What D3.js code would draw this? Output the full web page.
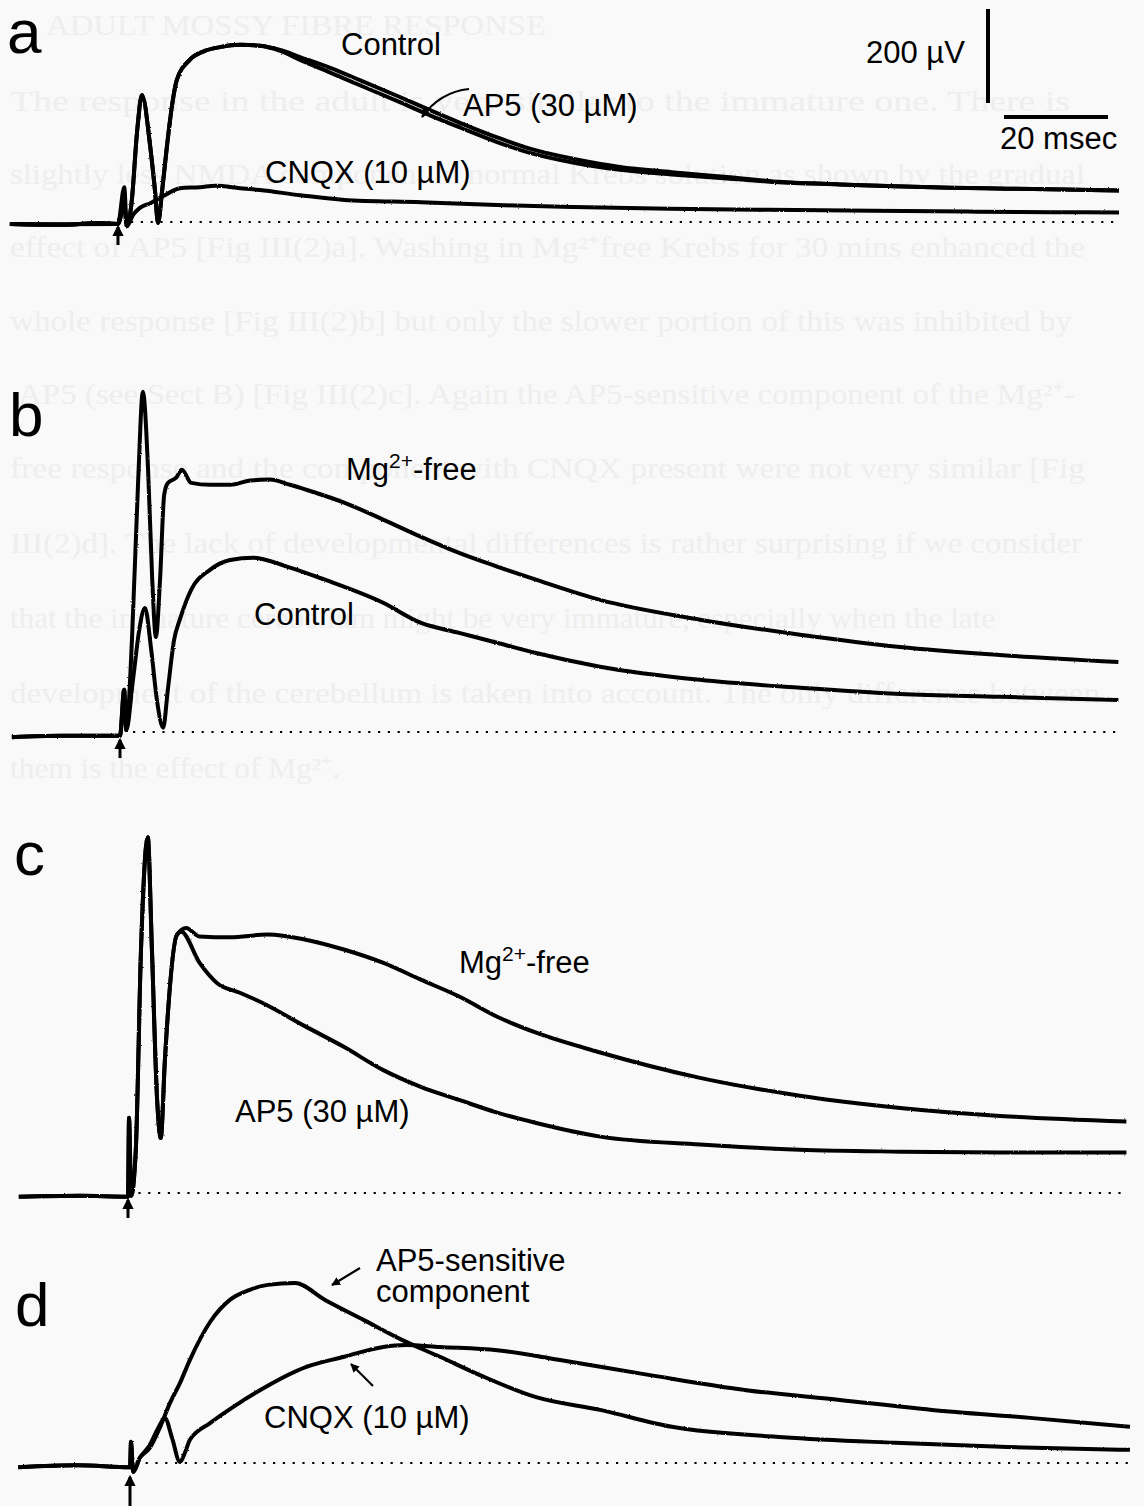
<!DOCTYPE html>
<html><head><meta charset="utf-8">
<script src="https://cdn.jsdelivr.net/npm/d3@7"></script>
<style>
html,body{margin:0;padding:0;background:#f9f9f9;}
svg{display:block;}
</style></head><body>
<svg id="fig" width="1144" height="1506"></svg>
<script>
// ---------- DATA (time in ms from stimulus, amplitude in µV above the dotted baseline) ----------
const aControl = [[-20.8,-4],[-11.2,-6],[-3.5,-2],[0,-4],[1.2,36],[1.7,-9],[2.6,40],[3.7,196],[4.6,270],[6.2,160],[7.1,68],[7.7,-2],[8.5,68],[9.4,160],[10.4,249],[11.3,302],[13.8,345],[16.7,364],[19.6,372],[23.5,377],[27.3,375],[31.2,366],[35,351],[40.8,328],[46.5,302],[54.2,266],[60,238],[66,210],[72.9,180],[79.2,156],[87.7,134],[96.5,117],[106.5,106],[117.7,95],[127.9,85],[138.8,80],[149.4,76],[160,73],[171,71],[182,69],[192.5,67]];
const aAP5 = [[-20.8,-4],[-11.2,-6],[-3.5,-2],[0,-4],[1.2,36],[1.7,-9],[2.6,40],[3.7,196],[4.6,270],[6.2,160],[7.1,68],[7.7,-2],[8.5,68],[9.4,160],[10.4,249],[11.3,302],[13.8,345],[16.7,364],[19.6,372],[23.5,377],[27.3,375],[31.2,364],[35,345],[40.8,318],[46.5,291],[54.2,255],[60,227],[66,200],[72.9,170],[79.2,147],[87.7,126],[96.5,111],[106.5,101],[117.7,92],[127.9,84],[138.8,80],[149.4,76],[160,73],[171,71],[182,69],[192.5,67]];
const aCNQX = [[-20.8,-4],[-11.2,-5],[0,-4],[1.2,74],[1.7,-9],[2.9,15],[4.2,30],[6.2,40],[9,57],[11.9,72],[15.8,74],[18.7,77],[23.5,72],[27.3,68],[35,57],[43.5,47],[58.3,42],[72.9,36],[87.7,32],[106,28],[125,26],[145,24],[165,22],[180,21],[192.5,20]];

const bMgFree = [[-20.8,-11],[-11.5,-8],[0,-8],[0.8,90],[1.2,4],[2.3,196],[3.5,537],[4.4,724],[5.4,558],[6.2,324],[6.9,202],[7.7,324],[8.5,505],[9.2,530],[10.8,541],[11.9,558],[13.7,530],[17.3,526],[21.2,526],[25,535],[28.8,537],[32.7,526],[36.5,513],[43.1,488],[50.6,452],[57.9,415],[65.2,381],[72.5,352],[80,324],[92.3,281],[111.5,239],[130.8,207],[150,181],[169.2,164],[192,149]];
const bControl = [[-20.8,-11],[-11.5,-8],[0,-8],[0.8,90],[1.2,4],[2.5,111],[3.7,217],[4.8,264],[6,175],[7.1,68],[8.3,9],[9.2,90],[10.4,196],[11.5,239],[13.7,303],[17.3,345],[21.2,366],[25.6,371],[32.1,352],[39.4,324],[50.6,275],[57.9,232],[65.2,211],[72.5,190],[80,168],[92.3,139],[111.5,111],[130.8,94],[150,81],[169.2,75],[192,68]];

const cMgFree = [[-21,-8],[-9.2,-6],[0,-8],[0.2,160],[0.6,-6],[1.5,92],[2.5,518],[3.8,757],[4.6,518],[5.6,198],[6.3,117],[7.1,284],[9.4,549],[11.2,564],[13.7,546],[19.6,544],[26.9,550],[34.2,539],[41.5,518],[49,490],[56.3,454],[63.7,418],[71,375],[78.5,341],[90.8,299],[110,245],[129.2,207],[148.5,181],[167.7,164],[192,152]];
const cAP5 = [[-21,-8],[-9.2,-6],[0,-8],[0.2,160],[0.6,-6],[1.5,92],[2.5,518],[3.8,757],[4.6,518],[5.6,198],[6.3,117],[7.1,284],[9.4,549],[10.2,556],[13.8,489],[17.1,447],[21.5,426],[25.4,407],[34.2,354],[41.5,311],[49,262],[56.3,226],[63.7,198],[71,171],[78.5,149],[90.8,120],[110,103],[129.2,92],[148.5,88],[167.7,86],[192,86]];

const dAP5sens = [[-21.5,-9],[-10,-5],[0,-9],[0.2,45],[0.6,-19],[1.9,11],[3.8,32],[5.8,77],[7.7,128],[9.6,170],[11.5,219],[15.4,300],[19.2,347],[22.9,368],[26.5,379],[31.7,383],[37.5,347],[45,304],[52.3,262],[59.6,226],[67.3,187],[78.1,140],[90.4,113],[104.2,77],[125.6,55],[147.1,43],[168.7,34],[192.3,28]];
const dCNQX = [[-21.5,-9],[-10,-5],[0,-9],[0.2,45],[0.6,-19],[1.9,11],[3.8,38],[5.4,74],[6.7,96],[8.1,53],[9.6,2],[10.6,23],[11.5,49],[15.4,85],[19.8,119],[24.4,151],[33.8,204],[41.2,226],[48.7,247],[53.1,251],[59.6,247],[70.6,240],[82.7,219],[100,187],[118.5,155],[136.5,134],[154.2,113],[173.1,96],[192.3,77]];

const scaleBarAmp = 200;   // µV
const scaleBarTime = 20;   // ms

// ---------- LAYOUT ----------
const pxPerMs = 5.2, pxPerUV = 0.47;
const panels = [
  {label:"a", xStim:118, yBase:222, traces:[aControl,aAP5,aCNQX], dotFrom:2.5, dotTo:192.5, arrowTop:227, arrowBot:245, lx:7, ly:53},
  {label:"b", xStim:120, yBase:732, traces:[bMgFree,bControl], dotFrom:2.5, dotTo:192, arrowTop:740, arrowBot:758, lx:9, ly:436},
  {label:"c", xStim:128, yBase:1193, traces:[cMgFree,cAP5], dotFrom:2, dotTo:192, arrowTop:1200, arrowBot:1218, lx:14, ly:875},
  {label:"d", xStim:130, yBase:1463, traces:[dAP5sens,dCNQX], dotFrom:3, dotTo:192.3, arrowTop:1477, arrowBot:1512, lx:15, ly:1326}
];

const svg = d3.select("#fig");
const FONT = "'Liberation Sans', Arial, Helvetica, sans-serif";

// faint bleed-through text from the reverse side of the scanned page
const bleed = [
  {t:"ADULT MOSSY FIBRE RESPONSE", x:46, y:35, w:500},
  {t:"The response in the adult is very similar to the immature one. There is", x:10, y:111, w:1060},
  {t:"slightly less NMDA component in normal Krebs solution as shown by the gradual", x:10, y:184, w:1075},
  {t:"effect of AP5 [Fig III(2)a]. Washing in Mg\u00b2\u207afree Krebs for 30 mins enhanced the", x:10, y:257, w:1075},
  {t:"whole response [Fig III(2)b] but only the slower portion of this was inhibited by", x:10, y:331, w:1062},
  {t:"AP5 (see Sect B) [Fig III(2)c]. Again the AP5-sensitive component of the Mg\u00b2\u207a-", x:18, y:404, w:1057},
  {t:"free response and the component with CNQX present were not very similar [Fig", x:10, y:478, w:1075},
  {t:"III(2)d]. The lack of developmental differences is rather surprising if we consider", x:10, y:553, w:1072},
  {t:"that the immature cerebellum might be very immature, especially when the late", x:10, y:628, w:985},
  {t:"development of the cerebellum is taken into account. The only difference between", x:10, y:703, w:1090},
  {t:"them is the effect of Mg\u00b2\u207a.", x:10, y:778, w:330}
];
svg.append("g").selectAll("text").data(bleed).join("text")
  .attr("x",d=>d.x).attr("y",d=>d.y)
  .attr("textLength",d=>d.w).attr("lengthAdjust","spacingAndGlyphs")
  .style("font-family","'Liberation Serif', 'Times New Roman', serif")
  .style("font-size","29px").style("fill","#eeeeee")
  .text(d=>d.t);

const defs = svg.append("defs");
defs.append("marker").attr("id","ah").attr("viewBox","0 0 10 10").attr("refX",9).attr("refY",5)
  .attr("markerWidth",4).attr("markerHeight",4).attr("orient","auto-start-reverse")
  .append("path").attr("d","M0,0 L10,5 L0,10 z").attr("fill","#000");
defs.append("marker").attr("id","ahs").attr("viewBox","0 0 10 10").attr("refX",8).attr("refY",5)
  .attr("markerWidth",3.8).attr("markerHeight",3.8).attr("orient","auto")
  .append("path").attr("d","M0,0 L10,5 L0,10 z").attr("fill","#000");
const f = defs.append("filter").attr("id","rough").attr("x","-5%").attr("y","-20%").attr("width","110%").attr("height","140%");
f.append("feTurbulence").attr("type","fractalNoise").attr("baseFrequency","0.7").attr("numOctaves",1).attr("seed",7).attr("result","n");
f.append("feDisplacementMap").attr("in","SourceGraphic").attr("in2","n").attr("scale",2.2).attr("xChannelSelector","R").attr("yChannelSelector","G");

panels.forEach(p => {
  const x = d3.scaleLinear().domain([0, 1]).range([p.xStim, p.xStim + pxPerMs]);
  const y = d3.scaleLinear().domain([0, 1]).range([p.yBase, p.yBase - pxPerUV]);
  p.x = x; p.y = y;
  const g = svg.append("g");
  g.append("line").attr("x1",x(p.dotFrom)).attr("x2",x(p.dotTo)).attr("y1",y(0)).attr("y2",y(0))
    .attr("stroke","#000").attr("stroke-width",2.2).attr("stroke-dasharray","2.2,7.6");
  const line = d3.line().x(d=>x(d[0])).y(d=>y(d[1])).curve(d3.curveMonotoneX);
  g.selectAll("path.tr").data(p.traces).join("path").attr("class","tr")
    .attr("d",line).attr("fill","none").attr("stroke","#000").attr("stroke-width",4)
    .attr("stroke-linejoin","round").attr("filter","url(#rough)");
  g.append("line").attr("x1",x(0)).attr("x2",x(0)).attr("y1",p.arrowBot).attr("y2",p.arrowTop)
    .attr("stroke","#000").attr("stroke-width",3).attr("marker-end","url(#ahs)");
  g.append("text").attr("x",p.lx).attr("y",p.ly).text(p.label)
    .style("font-family",FONT).style("font-size","62px");
});

// scale bars (lengths from panel a scales)
const pa = panels[0];
const vLen = pa.y(0) - pa.y(scaleBarAmp);
const hLen = pa.x(scaleBarTime) - pa.x(0);
svg.append("line").attr("x1",988).attr("x2",988).attr("y1",9).attr("y2",9+vLen).attr("stroke","#000").attr("stroke-width",4);
svg.append("line").attr("x1",1108-hLen).attr("x2",1108).attr("y1",117).attr("y2",117).attr("stroke","#000").attr("stroke-width",4);

const labels = [
  {t:"Control", x:341, y:55},
  {t:"AP5 (30 \u00b5M)", x:463, y:116},
  {t:"CNQX (10 \u00b5M)", x:265, y:183},
  {t:"200 \u00b5V", x:866, y:63},
  {t:"20 msec", x:1000, y:149},
  {t:"Control", x:254, y:625},
  {t:"AP5 (30 \u00b5M)", x:235, y:1122},
  {t:"AP5-sensitive", x:376, y:1271},
  {t:"component", x:376, y:1302},
  {t:"CNQX (10 \u00b5M)", x:264, y:1428}
];
svg.append("g").selectAll("text").data(labels).join("text")
  .attr("x",d=>d.x).attr("y",d=>d.y).text(d=>d.t)
  .style("font-family",FONT).style("font-size","31px");

[{x:346,y:480},{x:459,y:973}].forEach(d=>{
  const t = svg.append("text").attr("x",d.x).attr("y",d.y).style("font-family",FONT).style("font-size","31px");
  t.append("tspan").text("Mg");
  t.append("tspan").attr("dy",-12).style("font-size","21px").text("2+");
  t.append("tspan").attr("dy",12).text("-free");
});

const ann = [
  "M469,89 Q440,92 422,117",
  "M360,1268 L332,1285",
  "M373,1386 L351,1364"
];
svg.append("g").selectAll("path").data(ann).join("path").attr("d",d=>d)
  .attr("fill","none").attr("stroke","#000").attr("stroke-width",2.2).attr("marker-end","url(#ah)");
</script></body></html>
